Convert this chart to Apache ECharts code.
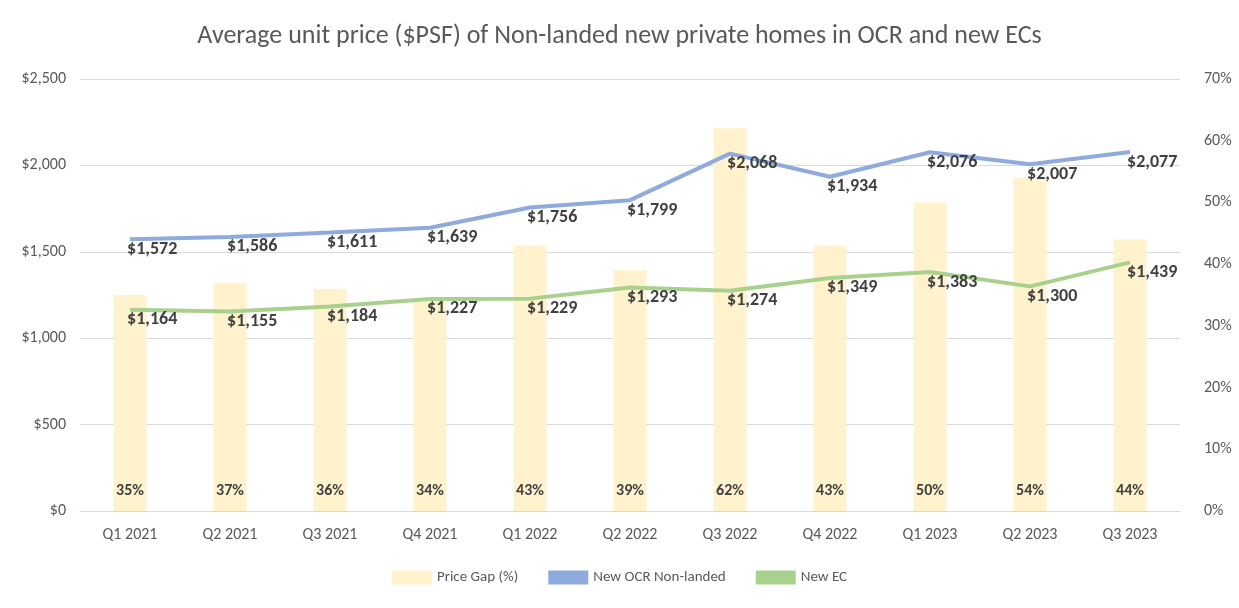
<!DOCTYPE html>
<html>
<head>
<meta charset="utf-8">
<script src="https://cdn.jsdelivr.net/npm/echarts@6/dist/echarts.min.js"></script>
<style>html,body{margin:0;padding:0;background:#fff}#main{width:1239px;height:608px}</style>
</head>
<body>
<div id="main"></div>
<script>
const quarters = ['Q1 2021','Q2 2021','Q3 2021','Q4 2021','Q1 2022','Q2 2022','Q3 2022','Q4 2022','Q1 2023','Q2 2023','Q3 2023'];
const priceGap = [35, 37, 36, 34, 43, 39, 62, 43, 50, 54, 44];
const ocrPrice = [1572, 1586, 1611, 1639, 1756, 1799, 2068, 1934, 2076, 2007, 2077];
const ecPrice = [1164, 1155, 1184, 1227, 1229, 1293, 1274, 1349, 1383, 1300, 1439];

const font = 'Calibri, Carlito, "Liberation Sans", sans-serif';
const money = v => '$' + v.toLocaleString('en-US');
const lineLabel = {
  show: true, position: 'right', offset: [-8, 10],
  fontSize: 18, fontWeight: 'bold', color: '#404040', fontFamily: font,
  formatter: p => money(p.value)
};

const chart = echarts.init(document.getElementById('main'));
chart.setOption({
  animation: false,
  title: {
    text: 'Average unit price ($PSF) of Non-landed new private homes in OCR and new ECs',
    left: 'center', top: 18,
    textStyle: { fontSize: 26, fontWeight: 'normal', color: '#595959', fontFamily: font }
  },
  legend: {
    bottom: 18, itemGap: 30, itemWidth: 40,
    textStyle: { fontSize: 15, color: '#595959', fontFamily: font },
    data: [
      { name: 'Price Gap (%)', icon: 'rect', itemHeight: 12 },
      { name: 'New OCR Non-landed', icon: 'rect', itemHeight: 4 },
      { name: 'New EC', icon: 'rect', itemHeight: 4 }
    ]
  },
  grid: { left: 80, right: 59, top: 79, bottom: 97 },
  xAxis: {
    type: 'category', data: quarters,
    axisLine: { lineStyle: { color: '#d9d9d9' } },
    axisTick: { show: false },
    axisLabel: { fontSize: 16, color: '#595959', fontFamily: font, margin: 16 }
  },
  yAxis: [
    {
      type: 'value', min: 0, max: 2500, interval: 500,
      axisLabel: { fontSize: 16, color: '#595959', fontFamily: font, formatter: v => money(v), margin: 14 },
      splitLine: { lineStyle: { color: '#d9d9d9' } },
      axisLine: { show: false }, axisTick: { show: false }
    },
    {
      type: 'value', min: 0, max: 70, interval: 10,
      axisLabel: { fontSize: 16, color: '#595959', fontFamily: font, formatter: v => v + '%', margin: 24 },
      splitLine: { show: false },
      axisLine: { show: false }, axisTick: { show: false }
    }
  ],
  series: [
    {
      name: 'Price Gap (%)', type: 'bar', yAxisIndex: 1, data: priceGap,
      barWidth: 33, itemStyle: { color: '#FFF2CC' },
      label: {
        show: true, position: 'insideBottom', distance: 12,
        fontSize: 16, fontWeight: 'bold', color: '#404040', fontFamily: font,
        formatter: p => p.value + '%'
      }
    },
    {
      name: 'New OCR Non-landed', type: 'line', data: ocrPrice, z: 3,
      symbol: 'circle', symbolSize: 0.1, lineStyle: { width: 4, color: '#8FAADC' }, itemStyle: { color: '#8FAADC' },
      label: lineLabel
    },
    {
      name: 'New EC', type: 'line', data: ecPrice, z: 3,
      symbol: 'circle', symbolSize: 0.1, lineStyle: { width: 4, color: '#A9D18E' }, itemStyle: { color: '#A9D18E' },
      label: lineLabel
    }
  ]
});
</script>
</body>
</html>
